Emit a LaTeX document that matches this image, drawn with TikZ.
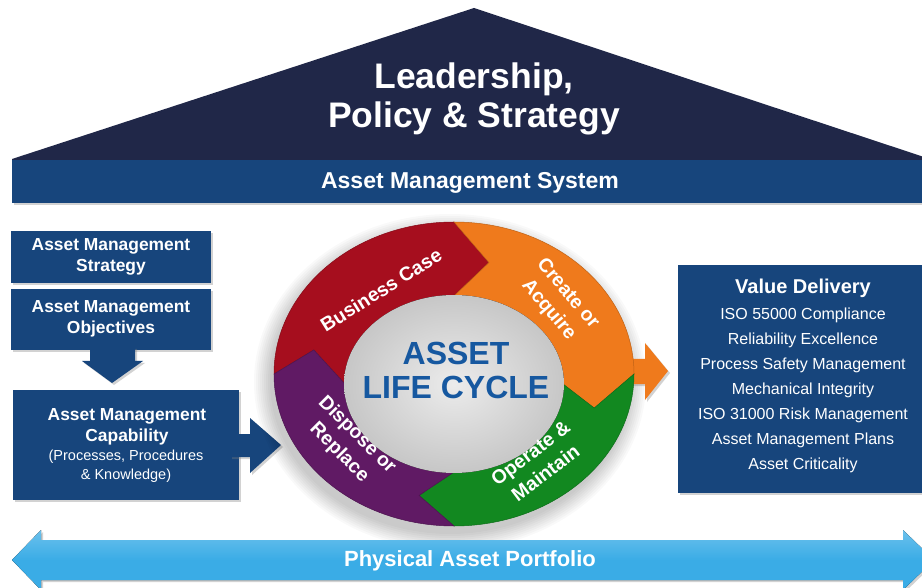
\documentclass[tikz,border=0pt]{standalone}
\usepackage{fontspec}
\setmainfont{Liberation Sans}
\usetikzlibrary{shadows}
\definecolor{navy}{RGB}{23,69,124}
\definecolor{roofc}{RGB}{32,39,72}
\definecolor{lblue}{RGB}{58,172,230}
\definecolor{cred}{RGB}{166,14,30}
\definecolor{corange}{RGB}{239,122,28}
\definecolor{cgreen}{RGB}{18,136,32}
\definecolor{cpurple}{RGB}{96,26,100}
\definecolor{cgrey}{RGB}{216,216,216}
\definecolor{tblue}{RGB}{22,88,160}
\newcommand\cycseg[3]{%
 \fill[#1,draw=#1!80!black,line width=0.5pt] ({180*cos(#2)},{152*sin(#2)}) arc[start angle=#2,end angle=#3,x radius=180pt,y radius=152pt]
 -- ({144.5*cos(#3-14)},{120*sin(#3-14)-5})
 -- ({109*cos(#3)},{88*sin(#3)-10}) arc[start angle=#3,end angle=#2,x radius=109pt,y radius=88pt]
 -- ({144.5*cos(#2-14)},{120*sin(#2-14)-5}) -- cycle;}
\tikzset{
 shad/.style={drop shadow={shadow xshift=2pt,shadow yshift=-2pt,opacity=0.35}},
 navybox/.style={fill=navy,shad,text=white,inner sep=0pt,align=center},
 boxtitle/.style={font=\fontsize{17.4}{21}\selectfont\bfseries},
 smalltxt/.style={font=\fontsize{14.5}{19}\selectfont},
 whitetxt/.style={text=white,inner sep=0pt,align=center},
 seglabel/.style={text=white,inner sep=0pt,align=center,font=\fontsize{19.5}{25}\selectfont\bfseries},
 vdline/.style={text=white,inner sep=0pt,font=\fontsize{16}{19}\selectfont},
}
\begin{document}
\begin{tikzpicture}[x=1pt,y=-1pt]
\useasboundingbox (0,0) rectangle (922,588);
\fill[white] (0,0) rectangle (922,588);

% roof
\fill[roofc,shad] (12,159) -- (474,8) -- (930,159) -- (930,161) -- (12,161) -- cycle;
\node[whitetxt,font=\fontsize{35.5}{39}\selectfont\bfseries] (lead) at (474,99) {Leadership,\\Policy \& Strategy};

% band
\node[navybox,anchor=north west,minimum width=918,minimum height=43] (ams) at (12,160) {};
\node[whitetxt,font=\fontsize{23}{26}\selectfont\bfseries] (amst) at (470,183) {Asset Management System};

% left boxes
\node[navybox,anchor=north west,minimum width=200,minimum height=52] (strat) at (11,231) {};
\node[whitetxt,boxtitle] (stratt) at (111,257) {Asset Management\\Strategy};
\node[navybox,anchor=north west,minimum width=200,minimum height=61] (obj) at (11,289) {};
\node[whitetxt,boxtitle] (objt) at (111,319) {Asset Management\\Objectives};
\fill[navy,shad] (90,347) -- (135,347) -- (135,361) -- (143,361) -- (112,383) -- (82,361) -- (90,361) -- cycle;
\node[navybox,anchor=north west,minimum width=226,minimum height=110] (cap) at (13,390) {};
\node[whitetxt,boxtitle] (capt) at (127,427) {Asset Management\\Capability};
\node[whitetxt,smalltxt] (caps) at (126,466) {(Processes, Procedures\\\& Knowledge)};
\fill[navy,shad] (230,434) -- (250,434) -- (250,418) -- (281,445) -- (250,473) -- (250,457) -- (230,457) -- cycle;

% value delivery
\node[navybox,anchor=north west,minimum width=260,minimum height=228] (vd) at (678,265) {};
\node[whitetxt,font=\fontsize{20}{24}\selectfont\bfseries] (vdt) at (803,288) {Value Delivery};
\foreach \t [count=\i] in {ISO 55000 Compliance,Reliability Excellence,Process Safety Management,Mechanical Integrity,ISO 31000 Risk Management,Asset Management Plans,Asset Criticality}
  \node[vdline] (vd\i) at (803,{315+25*(\i-1)}) {\t};

% glow around ring
\foreach \k in {1,...,9}{
  \pgfmathsetmacro\rxx{178+2*\k}
  \pgfmathsetmacro\ryy{150+2*\k}
  \fill[black,opacity=0.025] (450,382) ellipse [x radius=\rxx pt, y radius=\ryy pt];
}

% orange arrow
\fill[corange,shad] (620,359) -- (645,359) -- (645,343) -- (668,371) -- (645,400) -- (645,384) -- (620,384) -- cycle;

% ring
\begin{scope}[shift={(454,374)},y=1pt]
\cycseg{cred}{180}{90}
\cycseg{corange}{90}{0}
\cycseg{cgreen}{0}{-90}
\cycseg{cpurple}{270}{180}
\fill[inner color=cgrey!50,outer color=cgrey!92!black] (0,-10) ellipse [x radius=110pt, y radius=89pt];
\end{scope}
\node[text=tblue,inner sep=0pt,align=center,font=\fontsize{32}{34}\selectfont\bfseries] (core) at (456,370) {ASSET\\LIFE CYCLE};
\node[seglabel,rotate=32] (bc) at (381,290) {Business Case};
\node[seglabel,rotate=-50] (ca) at (558,302) {Create or\\Acquire};
\node[seglabel,rotate=37] (om) at (538,463) {Operate \&\\Maintain};
\node[seglabel,rotate=-45] (dr) at (348,444) {Dispose or\\Replace};

% bottom arrow
\fill[top color=lblue!75!white,bottom color=lblue,middle color=lblue,shad] (12,560) -- (41,530) -- (41,540) -- (903,540) -- (903,530) -- (934,560) -- (903,590) -- (903,580) -- (41,580) -- (41,590) -- cycle;
\node[whitetxt,font=\fontsize{22}{25}\selectfont\bfseries] (ppf) at (470,561) {Physical Asset Portfolio};
\end{tikzpicture}
\end{document}
